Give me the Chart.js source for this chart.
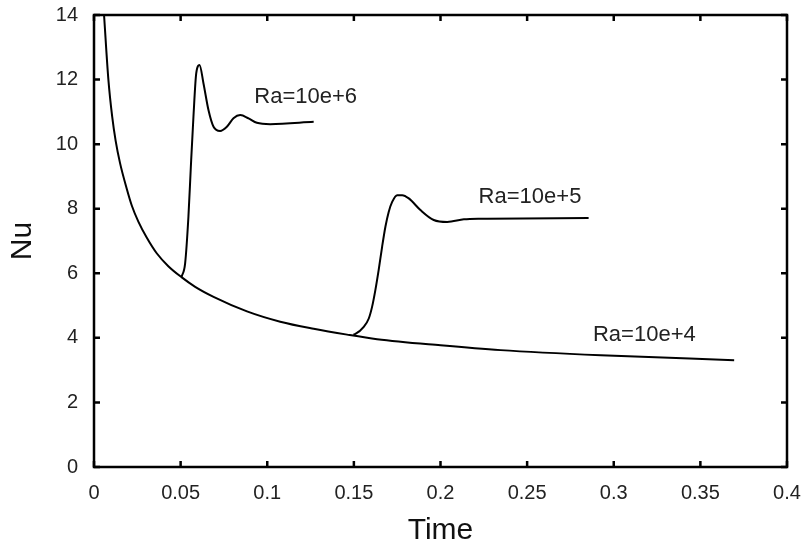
<!DOCTYPE html>
<html>
<head>
<meta charset="UTF-8">
<title>Nu vs Time</title>
<script src="https://cdn.jsdelivr.net/npm/chart.js"></script>
<style>
    body { margin: 0; background: #fff; }
    #wrap { width: 803px; height: 547px; }
</style>
</head>
<body>
<div id="wrap"><canvas id="chartCanvas"></canvas></div>
<script>
// values (time, Nu)
const timeRa4 = [0.0058, 0.0083, 0.0105, 0.0125, 0.015, 0.0189, 0.0218, 0.0256, 0.0305, 0.0362, 0.0429, 0.0505, 0.0584, 0.069, 0.0883, 0.1075, 0.1268, 0.1461, 0.1634, 0.2, 0.2347, 0.2925, 0.3695];
const nuRa4   = [14.0, 12.0, 10.85, 10.1, 9.42, 8.62, 8.1, 7.6, 7.1, 6.62, 6.22, 5.88, 5.58, 5.27, 4.82, 4.5, 4.28, 4.1, 3.96, 3.77, 3.62, 3.46, 3.31];

const timeRa6 = [0.0505, 0.0526, 0.0545, 0.0559, 0.0574, 0.059, 0.0609, 0.0632, 0.0661, 0.069, 0.0728, 0.0767, 0.0805, 0.0844, 0.0892, 0.094, 0.1017, 0.1268];
const nuRa6   = [5.88, 6.31, 7.75, 9.3, 10.85, 12.19, 12.45, 11.88, 11.05, 10.54, 10.41, 10.54, 10.8, 10.9, 10.8, 10.66, 10.62, 10.69];

const timeRa5 = [0.1497, 0.1509, 0.1557, 0.1586, 0.1605, 0.1624, 0.1643, 0.1663, 0.1682, 0.1701, 0.1721, 0.175, 0.1779, 0.1817, 0.1884, 0.1961, 0.2039, 0.2135, 0.2231, 0.2855];
const nuRa5   = [4.1, 4.12, 4.34, 4.6, 4.96, 5.48, 6.1, 6.82, 7.44, 7.9, 8.21, 8.42, 8.42, 8.32, 7.96, 7.65, 7.59, 7.67, 7.69, 7.71];

const seriesNames = ['Ra=10e+4', 'Ra=10e+5', 'Ra=10e+6'];
// where each series name is written (time, Nu of the text's left/middle)
const labelTime = [0.288, 0.222, 0.0925];
const labelNu   = [4.09, 8.37, 11.46];

const xTicks = [0, 0.05, 0.1, 0.15, 0.2, 0.25, 0.3, 0.35, 0.4];
const yTicks = [0, 2, 4, 6, 8, 10, 12, 14];

function toPoints(xs, ys) {
    return xs.map((x, i) => ({ x: x, y: ys[i] }));
}

function lineSet(xs, ys, name) {
    return {
        label: name,
        data: toPoints(xs, ys),
        borderColor: '#000',
        borderWidth: 2,
        pointRadius: 0,
        fill: false,
        cubicInterpolationMode: 'monotone'
    };
}

function noOverhang(s) {
    s.paddingTop = 0;
    s.paddingBottom = 0;
    s.paddingLeft = 0;
    s.paddingRight = 0;
}

// frame, inward ticks on all four sides, and the series names
const framePlugin = {
    id: 'frame',
    afterDraw(chart) {
        const ctx = chart.ctx;
        const a = chart.chartArea;
        const xs = chart.scales.x, ys = chart.scales.y;
        ctx.save();
        ctx.strokeStyle = '#000';
        ctx.lineWidth = 2.5;
        ctx.strokeRect(a.left, a.top, a.right - a.left, a.bottom - a.top);
        ctx.beginPath();
        xTicks.forEach(v => {
            const px = xs.getPixelForValue(v);
            ctx.moveTo(px, a.bottom); ctx.lineTo(px, a.bottom - 6);
            ctx.moveTo(px, a.top); ctx.lineTo(px, a.top + 6);
        });
        yTicks.forEach(v => {
            const py = ys.getPixelForValue(v);
            ctx.moveTo(a.left, py); ctx.lineTo(a.left + 6, py);
            ctx.moveTo(a.right, py); ctx.lineTo(a.right - 6, py);
        });
        ctx.stroke();

        ctx.fillStyle = '#222';
        ctx.font = '22px "Liberation Sans", Arial, sans-serif';
        ctx.textAlign = 'left';
        ctx.textBaseline = 'middle';
        seriesNames.forEach((n, i) => {
            ctx.fillText(n, xs.getPixelForValue(labelTime[i]), ys.getPixelForValue(labelNu[i]));
        });
        ctx.restore();
    }
};

new Chart(document.getElementById('chartCanvas'), {
    type: 'line',
    data: {
        datasets: [
            lineSet(timeRa4, nuRa4, seriesNames[0]),
            lineSet(timeRa5, nuRa5, seriesNames[1]),
            lineSet(timeRa6, nuRa6, seriesNames[2])
        ]
    },
    options: {
        responsive: true,
        maintainAspectRatio: false,
        animation: false,
        layout: { padding: { top: 15, right: 16, left: 0, bottom: 0 } },
        plugins: {
            legend: { display: false },
            tooltip: { enabled: false }
        },
        scales: {
            x: {
                type: 'linear',
                min: 0,
                max: 0.4,
                afterFit: s => { s.height = 80; noOverhang(s); },
                afterBuildTicks: s => { s.ticks = xTicks.map(v => ({ value: v })); },
                grid: { display: false, drawTicks: false },
                border: { display: false },
                ticks: {
                    padding: 14,
                    color: '#222',
                    font: { family: '"Liberation Sans", Arial, sans-serif', size: 20 },
                    callback: v => String(v)
                },
                title: {
                    display: true,
                    text: 'Time',
                    color: '#111',
                    font: { family: '"Liberation Sans", Arial, sans-serif', size: 30, lineHeight: 1 },
                    padding: { top: 0, bottom: 1 }
                }
            },
            y: {
                min: 0,
                max: 14,
                afterFit: s => { s.width = 94; noOverhang(s); },
                afterBuildTicks: s => { s.ticks = yTicks.map(v => ({ value: v })); },
                grid: { display: false, drawTicks: false },
                border: { display: false },
                ticks: {
                    padding: 16,
                    color: '#222',
                    font: { family: '"Liberation Sans", Arial, sans-serif', size: 20 },
                    callback: v => String(v)
                },
                title: {
                    display: true,
                    text: 'Nu',
                    color: '#111',
                    font: { family: '"Liberation Sans", Arial, sans-serif', size: 30, lineHeight: 1 },
                    padding: { top: 8, bottom: 0 }
                }
            }
        }
    },
    plugins: [framePlugin]
});
</script>
</body>
</html>
